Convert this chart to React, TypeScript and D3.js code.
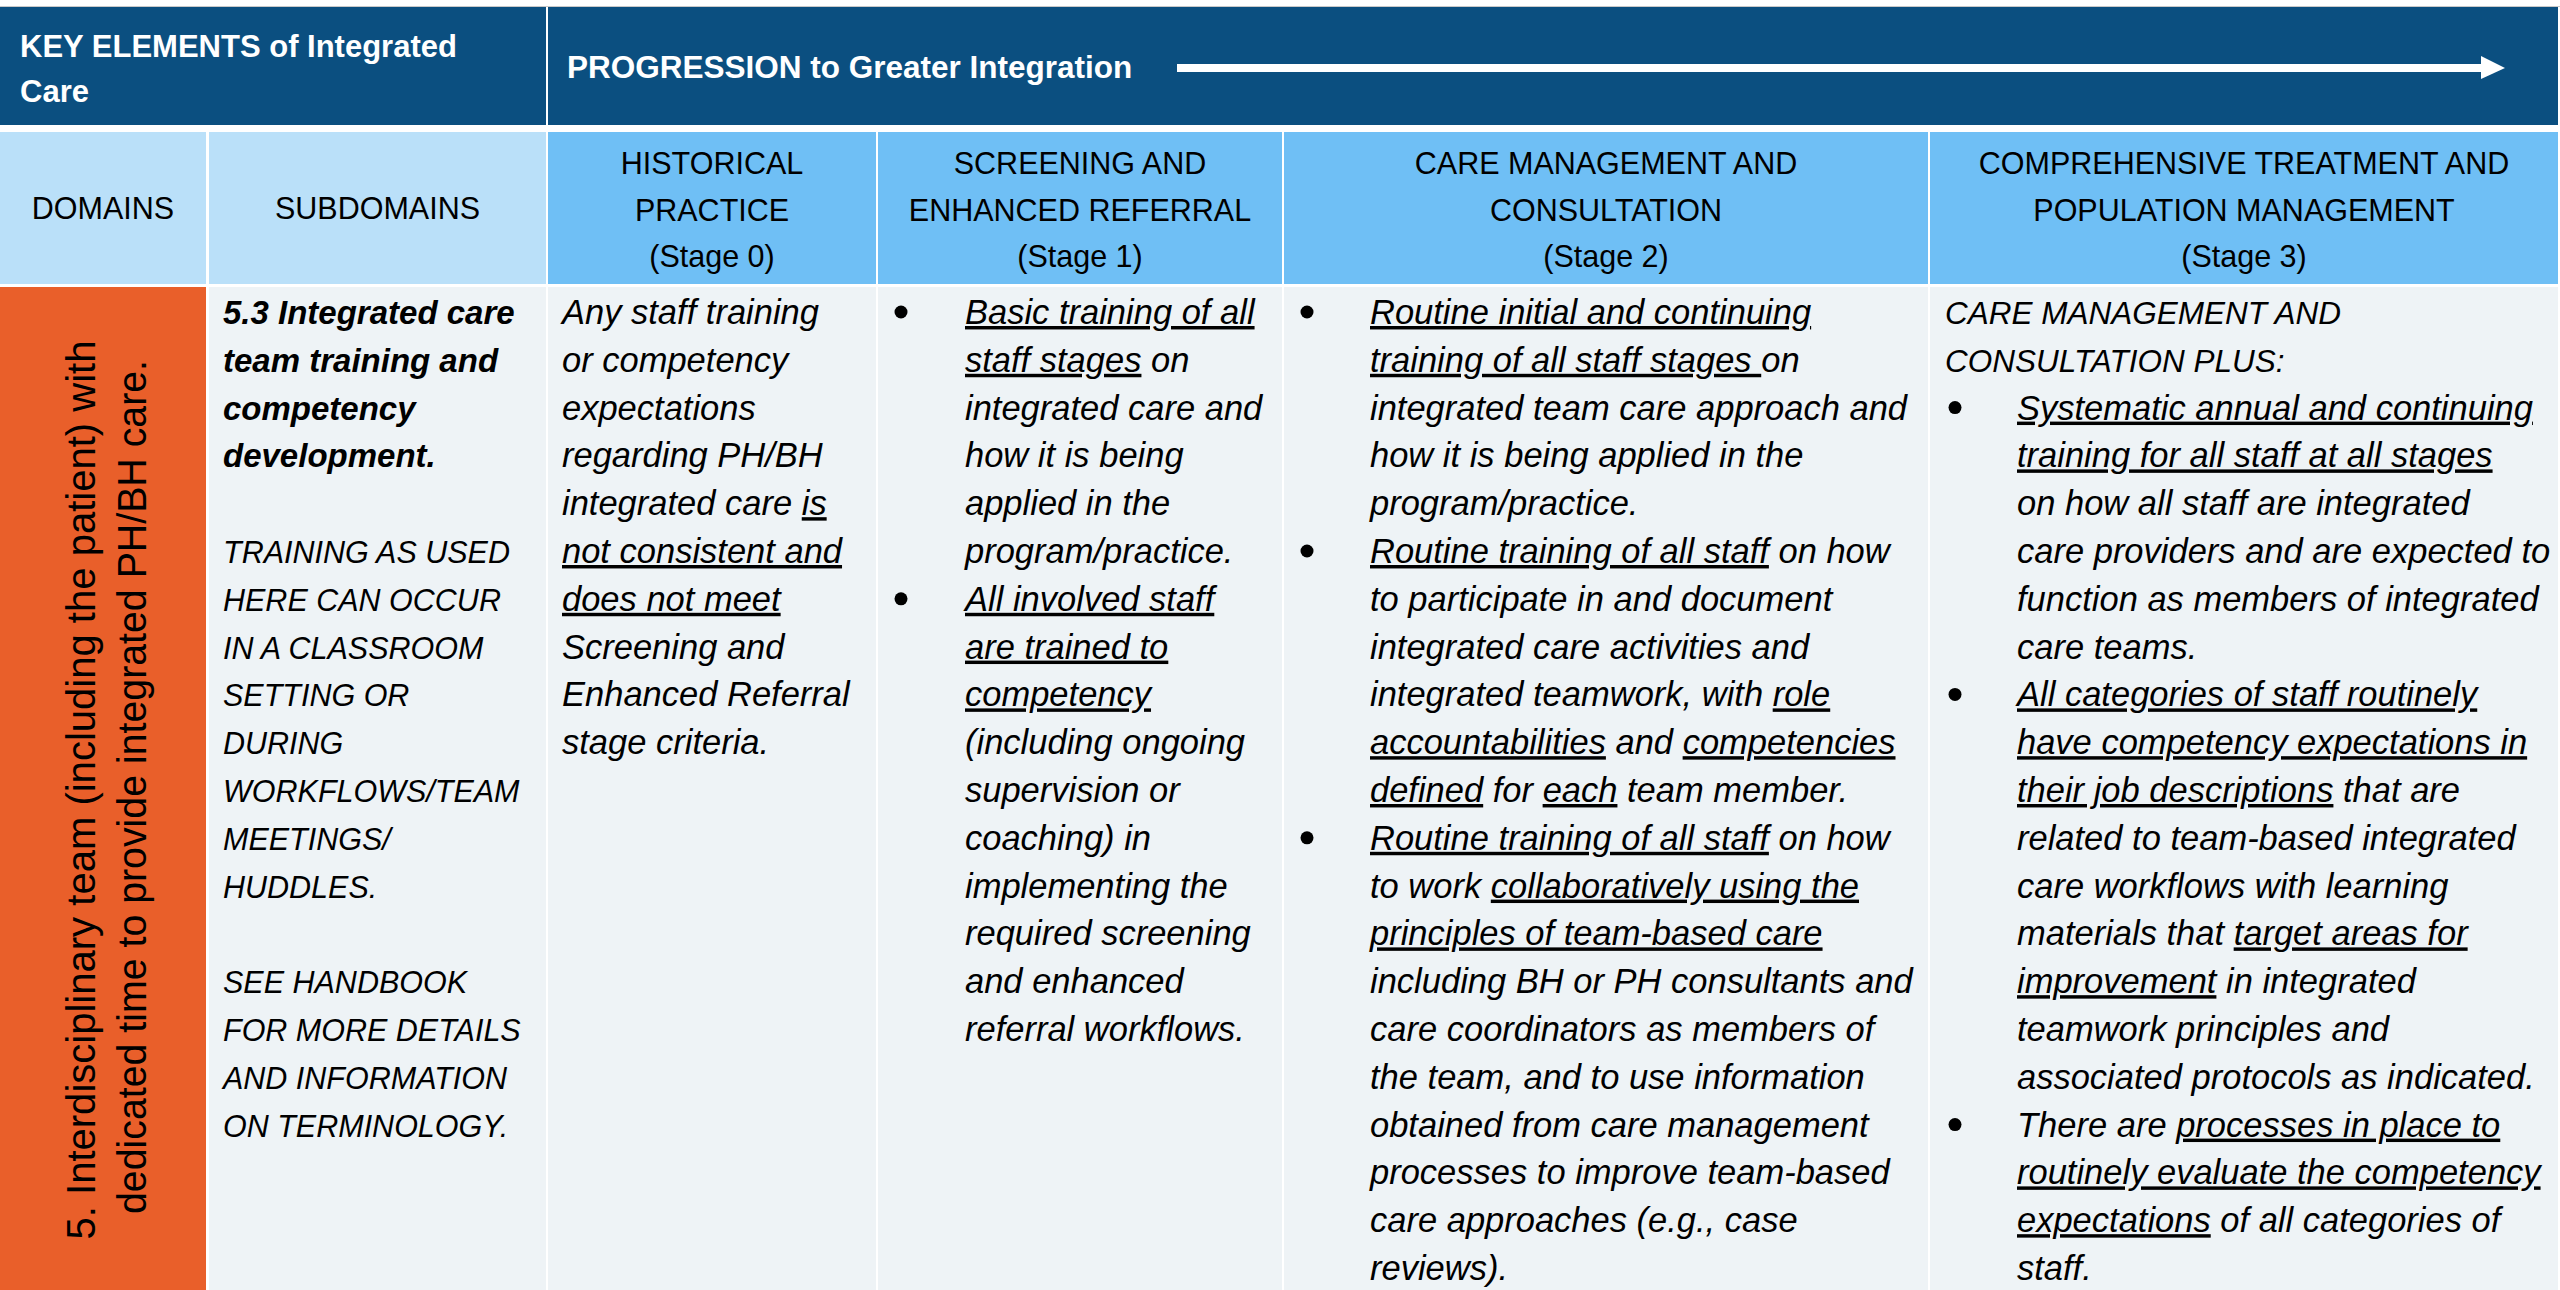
import * as d3 from 'd3'
import { useEffect, useRef } from 'react'

// ---- table content (text) ----
const titleLines = ['KEY ELEMENTS of Integrated', 'Care']
const progressionLabel = 'PROGRESSION to Greater Integration'

const columnHeaders = [
  ['DOMAINS'],
  ['SUBDOMAINS'],
  ['HISTORICAL', 'PRACTICE', '(Stage 0)'],
  ['SCREENING AND', 'ENHANCED REFERRAL', '(Stage 1)'],
  ['CARE MANAGEMENT AND', 'CONSULTATION', '(Stage 2)'],
  ['COMPREHENSIVE TREATMENT AND', 'POPULATION MANAGEMENT', '(Stage 3)'],
]

const domainLines = [
  '5. Interdisciplinary team (including the patient) with',
  'dedicated time to provide integrated PH/BH care.',
]

// {...} marks underlined text
const subdomainTitle = ['5.3 Integrated care', 'team training and', 'competency', 'development.']
const subdomainNote = [
  'TRAINING AS USED', 'HERE CAN OCCUR', 'IN A CLASSROOM', 'SETTING OR',
  'DURING', 'WORKFLOWS/TEAM', 'MEETINGS/', 'HUDDLES.',
]
const subdomainSee = ['SEE HANDBOOK', 'FOR MORE DETAILS', 'AND INFORMATION', 'ON TERMINOLOGY.']

const stage0Lines = [
  'Any staff training',
  'or competency',
  'expectations',
  'regarding PH/BH',
  'integrated care {is}',
  '{not consistent and}',
  '{does not meet}',
  'Screening and',
  'Enhanced Referral',
  'stage criteria.',
]

const stage1Lines = [
  '{Basic training of all}',
  '{staff stages} on',
  'integrated care and',
  'how it is being',
  'applied in the',
  'program/practice.',
  '{All involved staff}',
  '{are trained to}',
  '{competency}',
  '(including ongoing',
  'supervision or',
  'coaching) in',
  'implementing the',
  'required screening',
  'and enhanced',
  'referral workflows.',
]
const stage1Bullets = [0, 6]

const stage2Lines = [
  '{Routine initial and continuing}',
  '{training of all staff stages }on',
  'integrated team care approach and',
  'how it is being applied in the',
  'program/practice.',
  '{Routine training of all staff} on how',
  'to participate in and document',
  'integrated care activities and',
  'integrated teamwork, with {role}',
  '{accountabilities} and {competencies}',
  '{defined} for {each} team member.',
  '{Routine training of all staff} on how',
  'to work {collaboratively using the}',
  '{principles of team-based care}',
  'including BH or PH consultants and',
  'care coordinators as members of',
  'the team, and to use information',
  'obtained from care management',
  'processes to improve team-based',
  'care approaches (e.g., case',
  'reviews).',
]
const stage2Bullets = [0, 5, 11]

const stage3Intro = ['CARE MANAGEMENT AND', 'CONSULTATION PLUS:']
const stage3Lines = [
  '{Systematic annual and continuing}',
  '{training for all staff at all stages}',
  'on how all staff are integrated',
  'care providers and are expected to',
  'function as members of integrated',
  'care teams.',
  '{All categories of staff routinely}',
  '{have competency expectations in}',
  '{their job descriptions} that are',
  'related to team-based integrated',
  'care workflows with learning',
  'materials that {target areas for}',
  '{improvement} in integrated',
  'teamwork principles and',
  'associated protocols as indicated.',
  'There are {processes in place to}',
  '{routinely evaluate the competency}',
  '{expectations} of all categories of',
  'staff.',
]
const stage3Bullets = [0, 6, 15]

// ---- layout ----
const W = 2560
const H = 1290
const colLeft = [0, 209, 548, 878, 1284, 1930]
const colRight = [206, 546, 876, 1282, 1928, 2558]
const rowTop = [7, 132, 287]
const rowBottom = [125, 284, 1290]

const DARK = '#0B4F80'
const LIGHT = '#BAE0F9'
const STAGE = '#6FBFF5'
const ORANGE = '#E95F2A'
const BODY = '#EEF3F6'
const FONT = '"Liberation Sans", Arial, sans-serif'

export default function App() {
  const ref = useRef<SVGSVGElement>(null)

  useEffect(() => {
    const svg = d3.select(ref.current)
    svg.selectAll('*').remove()

    svg.append('rect').attr('width', W).attr('height', H).attr('fill', '#fff')
    svg.append('rect').attr('x', 0).attr('y', 6).attr('width', W).attr('height', 1).attr('fill', '#c9c9c9')

    // row 1 cells
    const row1 = [[0, 546], [548, colRight[5]]]
    svg.selectAll('.r1').data(row1).enter().append('rect')
      .attr('x', d => d[0]).attr('y', rowTop[0])
      .attr('width', d => d[1] - d[0]).attr('height', rowBottom[0] - rowTop[0])
      .attr('fill', DARK)

    // row 2 and 3 cells
    const cols = d3.range(colLeft.length)
    svg.selectAll('.r2').data(cols).enter().append('rect')
      .attr('x', i => colLeft[i]).attr('y', rowTop[1])
      .attr('width', i => colRight[i] - colLeft[i]).attr('height', rowBottom[1] - rowTop[1])
      .attr('fill', i => (i < 2 ? LIGHT : STAGE))
    svg.selectAll('.r3').data(cols).enter().append('rect')
      .attr('x', i => colLeft[i]).attr('y', rowTop[2])
      .attr('width', i => colRight[i] - colLeft[i]).attr('height', rowBottom[2] - rowTop[2])
      .attr('fill', i => (i === 0 ? ORANGE : BODY))

    const g = svg.append('g').attr('font-family', FONT)

    const fit = (t: any, maxW: number) => {
      const node = t.node() as SVGTextElement
      if (node.getComputedTextLength() > maxW) {
        t.attr('textLength', maxW).attr('lengthAdjust', 'spacingAndGlyphs')
      }
    }

    const addLine = (x: number, y: number, str: string, opts: any) => {
      const t = g.append('text')
        .attr('x', x).attr('y', y)
        .attr('font-size', opts.size)
        .attr('font-style', opts.italic ? 'italic' : 'normal')
        .attr('font-weight', opts.bold ? 'bold' : 'normal')
        .attr('fill', opts.color || '#000')
        .attr('text-anchor', opts.anchor || 'start')
      str.split(/(\{[^}]*\})/).filter(s => s.length).forEach(seg => {
        const under = seg.startsWith('{')
        t.append('tspan')
          .text(under ? seg.slice(1, -1) : seg)
          .style('text-decoration', under ? 'underline' : 'none')
          .style('white-space', 'pre')
      })
      if (opts.maxW) fit(t, opts.maxW)
      return t
    }

    // row 1 text
    titleLines.forEach((s, i) =>
      addLine(20, 57 + i * 45, s, { size: 31, bold: true, color: '#fff', maxW: 520 }))
    addLine(567, 78, progressionLabel, { size: 31.5, bold: true, color: '#fff' })

    // progression arrow
    svg.append('rect').attr('x', 1177).attr('y', 64).attr('width', 2482 - 1177).attr('height', 8).attr('fill', '#fff')
    svg.append('path')
      .attr('d', d3.line()([[2481, 56], [2505, 68], [2481, 79]]) + 'Z')
      .attr('fill', '#fff')

    // row 2 headers
    const hdrY = d3.scaleLinear().domain([0, 1]).range([174, 220.5])
    columnHeaders.forEach((lines, i) => {
      const cx = (colLeft[i] + colRight[i]) / 2
      lines.forEach((s, j) => {
        const y = lines.length === 1 ? 219 : hdrY(j)
        addLine(cx, y, s, { size: 30.5, anchor: 'middle', maxW: colRight[i] - colLeft[i] - 12 })
      })
    })

    // body rows
    const lineY = d3.scaleLinear().domain([0, 1]).range([324, 324 + 47.8])

    // domains: rotated text
    const dom = [
      { x: 95, y: 790, len: 899 },
      { x: 146, y: 787, len: 854 },
    ]
    domainLines.forEach((s, i) => {
      g.append('text')
        .attr('transform', `translate(${dom[i].x},${dom[i].y}) rotate(-90)`)
        .attr('text-anchor', 'middle')
        .attr('font-size', 40)
        .attr('textLength', dom[i].len)
        .attr('lengthAdjust', 'spacingAndGlyphs')
        .attr('fill', '#000')
        .text(s)
    })

    // subdomains
    const subX = colLeft[1] + 14
    const subMax = colRight[1] - subX - 4
    subdomainTitle.forEach((s, i) => addLine(subX, lineY(i), s, { size: 33, bold: true, italic: true, maxW: subMax }))
    subdomainNote.forEach((s, i) => addLine(subX, lineY(i + 5), s, { size: 30.5, italic: true, maxW: subMax }))
    subdomainSee.forEach((s, i) => addLine(subX, lineY(i + 14), s, { size: 30.5, italic: true, maxW: subMax }))

    // stage 0
    stage0Lines.forEach((s, i) =>
      addLine(colLeft[2] + 14, lineY(i), s, { size: 34.5, italic: true, maxW: colRight[2] - colLeft[2] - 18 }))

    // bulleted stages
    const bulleted = (col: number, lines: string[], bullets: number[], start: number, bx: number, tx: number) => {
      lines.forEach((s, i) =>
        addLine(colLeft[col] + tx, lineY(i + start), s, {
          size: 34.5, italic: true, maxW: colRight[col] - colLeft[col] - tx - 3,
        }))
      g.selectAll(null).data(bullets).enter().append('circle')
        .attr('cx', colLeft[col] + bx)
        .attr('cy', d => lineY(d + start) - 12)
        .attr('r', 6.5)
        .attr('fill', '#000')
    }
    bulleted(3, stage1Lines, stage1Bullets, 0, 23, 87)
    bulleted(4, stage2Lines, stage2Bullets, 0, 23, 86)

    stage3Intro.forEach((s, i) =>
      addLine(colLeft[5] + 15, lineY(i), s, { size: 31.5, italic: true, maxW: 560 }))
    bulleted(5, stage3Lines, stage3Bullets, 2, 25, 87)
  }, [])

  return (
    <svg
      ref={ref}
      width={W}
      height={H}
      style={{ position: 'absolute', left: 0, top: 0, display: 'block' }}
    />
  )
}
